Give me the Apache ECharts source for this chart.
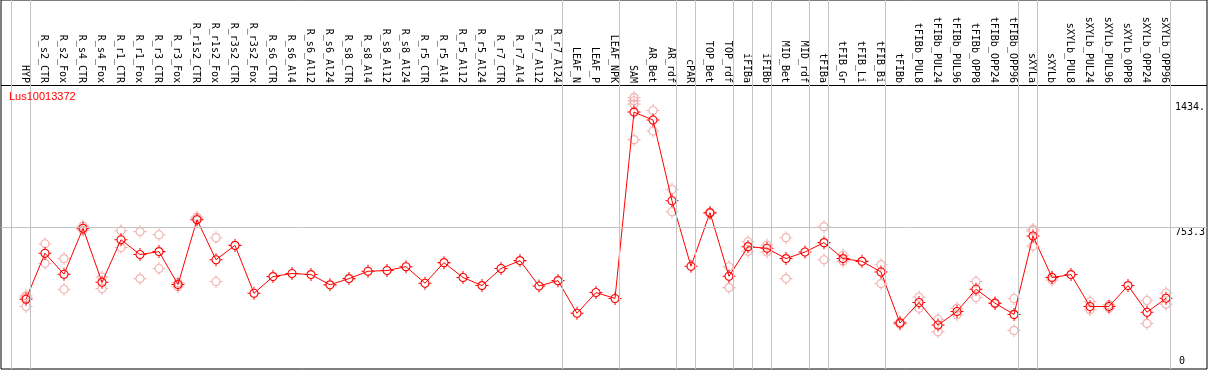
<!DOCTYPE html>
<html>
<head>
<meta charset="utf-8">
<script src="https://cdn.jsdelivr.net/npm/echarts@6/dist/echarts.min.js"></script>
<style>
html,body{margin:0;padding:0;background:#fff;}
#chart{width:1209px;height:370px;}
</style>
</head>
<body>
<div id="chart"></div>
<script>
// ---- data ----
const categories = ["HYP","R_s2_CTR","R_s2_Fox","R_s4_CTR","R_s4_Fox","R_r1_CTR","R_r1_Fox","R_r3_CTR","R_r3_Fox","R_r1s2_CTR","R_r1s2_Fox","R_r3s2_CTR","R_r3s2_Fox","R_s6_CTR","R_s6_Al4","R_s6_Al12","R_s6_Al24","R_s8_CTR","R_s8_Al4","R_s8_Al12","R_s8_Al24","R_r5_CTR","R_r5_Al4","R_r5_Al12","R_r5_Al24","R_r7_CTR","R_r7_Al4","R_r7_Al12","R_r7_Al24","LEAF_N","LEAF_P","LEAF_NPK","SAM","AR_Bet","AR_rdf","cPAR","TOP_Bet","TOP_rdf","iFIBa","iFIBb","MID_Bet","MID_rdf","tFIBa","tFIB_Gr","tFIB_Li","tFIB_Bi","tFIBb","tFIBb_PUL8","tFIBb_PUL24","tFIBb_PUL96","tFIBb_OPP8","tFIBb_OPP24","tFIBb_OPP96","sXYLa","sXYLb","sXYLb_PUL8","sXYLb_PUL24","sXYLb_PUL96","sXYLb_OPP8","sXYLb_OPP24","sXYLb_OPP96"];

const means = [364,614,500,750,456,688,607,623,444,797,579,657,396,487,504,498,442,476,516,520,541,451,563,482,438,531,574,436,465,287,400,368,1383,1340,900,543,835,489,650,641,585,621,672,585,570,512,234,346,223,297,418,342,281,708,482,498,324,324,438,293,369];

const replicates = [
  [382,324,372],[666,559],[585,418],[762,740],[485,422],[737,645],[732,476],[715,531],[454,432],[811,800],
  [699,460],[],[],[],[],[],[],[],[],[],
  [],[],[],[],[],[],[],[],[],[],
  [],[],[1463,1445,1427,1233],[1392,1280],[961,840],[],[838,830],[541,427],[677,625],[659,621],
  [699,476],[],[759,579],[605,571],[],[552,449],[240,228],[376,315],[255,186],[315,279],
  [460,373],[345,340],[368,194],[744,735,653],[469,485],[],[350,306],[333,315],[],[357,232],
  [398,337]
];

// group separators are drawn just after these category indices
const separatorsAfter = [-1,0,28,31,34,35,37,38,39,41,42,45,52,53,60];

const title = "Lus10013372";
const yTickValues = [753.3, 1434];
const yTickLabels = ["753.3", "1434."];

// ---- build ----
const meanData = means.map((v,i)=>[i,v]);
const repData = [];
replicates.forEach((arr,i)=>arr.forEach(v=>repData.push([i,v])));

function circ(cx, cy, r, ccw){
  const k = 0.5523*r;
  if(!ccw){
    return `M${cx+r},${cy} C${cx+r},${cy+k} ${cx+k},${cy+r} ${cx},${cy+r} C${cx-k},${cy+r} ${cx-r},${cy+k} ${cx-r},${cy} C${cx-r},${cy-k} ${cx-k},${cy-r} ${cx},${cy-r} C${cx+k},${cy-r} ${cx+r},${cy-k} ${cx+r},${cy} Z `;
  }
  return `M${cx+r},${cy} C${cx+r},${cy-k} ${cx+k},${cy-r} ${cx},${cy-r} C${cx-k},${cy-r} ${cx-r},${cy-k} ${cx-r},${cy} C${cx-r},${cy+k} ${cx-k},${cy+r} ${cx},${cy+r} C${cx+k},${cy+r} ${cx+r},${cy+k} ${cx+r},${cy} Z `;
}
const SYM = 'path://' + circ(10,10,7,false) + circ(10,10,5.3,true) +
  'M9.2,0 L10.8,0 L10.8,3.2 L9.2,3.2 Z M9.2,16.8 L10.8,16.8 L10.8,20 L9.2,20 Z M0,9.2 L3.2,9.2 L3.2,10.8 L0,10.8 Z M16.8,9.2 L20,9.2 L20,10.8 L16.8,10.8 Z';

const XMIN = -1.3158, XMAX = 62.158;
const LABEL_SHIFT = 0.1;                // labels sit ~2px left of their points
const YMIN = -16.3, YMAX = 1993.5;     // full frame (y 0..369)
const YMAX_PLOT = 1530.5;               // plot area top (y 85)
const mono = 'DejaVu Sans Mono';

const chart = echarts.init(document.getElementById('chart'), null, {renderer:'canvas'});
chart.setOption({
  animation:false,
  backgroundColor:'#fff',
  title:{text:title,left:9,top:91,padding:0,
    textStyle:{color:'#ff0000',fontSize:11,fontWeight:'normal',fontFamily:'Liberation Sans'}},
  grid:[
    {left:1,right:2,top:0,bottom:1,show:true,borderColor:'#000',borderWidth:1,backgroundColor:'transparent'},
    {left:1,right:2,top:85,bottom:1,show:false}
  ],
  xAxis:[{
    gridIndex:0,type:'value',min:XMIN,max:XMAX,show:false
  },{
    gridIndex:1,type:'value',min:XMIN+LABEL_SHIFT,max:XMAX+LABEL_SHIFT,position:'top',
    axisLine:{show:false,onZero:false},
    axisTick:{show:false},splitLine:{show:false},
    axisLabel:{customValues:categories.map((_,i)=>i),rotate:90,margin:2,
      formatter:v=>categories[Math.round(v)],
      fontFamily:mono,fontSize:10,color:'#000',hideOverlap:false}
  }],
  yAxis:[{
    gridIndex:0,type:'value',min:YMIN,max:YMAX,show:false
  },{
    gridIndex:1,type:'value',min:YMIN,max:YMAX_PLOT,position:'right',
    axisLine:{show:false,onZero:false},axisTick:{show:false},splitLine:{show:false},
    axisLabel:{customValues:yTickValues,inside:true,align:'left',verticalAlign:'top',margin:32,
      formatter:v=>yTickLabels[yTickValues.indexOf(v)],
      fontFamily:mono,fontSize:10,color:'#000'}
  },{
    gridIndex:1,type:'value',min:YMIN,max:YMAX_PLOT,position:'right',
    axisLine:{show:false,onZero:false},axisTick:{show:false},splitLine:{show:false},
    axisLabel:{customValues:[0],inside:true,align:'left',verticalAlign:'bottom',margin:28,
      formatter:()=> '0',fontFamily:mono,fontSize:10,color:'#000'}
  }],
  series:[{
    type:'scatter',xAxisIndex:0,yAxisIndex:0,data:repData,symbol:SYM,symbolSize:13,
    itemStyle:{color:'#ef9c9c'},silent:true,z:2
  },{
    type:'line',xAxisIndex:0,yAxisIndex:0,data:meanData,symbol:SYM,symbolSize:13,showSymbol:true,
    lineStyle:{color:'#ff0000',width:1},itemStyle:{color:'#ff0000'},silent:true,z:3,
    markLine:{silent:true,symbol:'none',animation:false,
      label:{show:false},
      lineStyle:{color:'#c4c4c4',width:1,type:'solid'},
      data:[{yAxis:753.3},{yAxis:YMAX_PLOT,lineStyle:{color:'#000'}}]
        .concat(separatorsAfter.map(i=>({xAxis:i+0.23})))
    }
  }]
});
</script>
</body>
</html>
